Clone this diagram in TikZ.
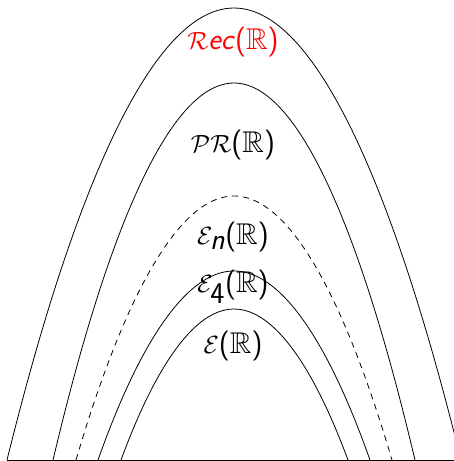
\documentclass[tikz,border=0pt]{standalone}
\usepackage{amssymb}
\begin{document}
\begin{tikzpicture}[x=1pt,y=1pt,
  curve/.style={line width=0.8pt},
  lbl/.style={font=\fontsize{30}{34}\selectfont, inner sep=0pt}]
\useasboundingbox (0,0) rectangle (454,461);
\begin{scope}
\clip (0,0) rectangle (454,461);
\draw[curve] (7,1) parabola bend (234,453) (461,1);
\draw[curve] (53,1) parabola bend (234,378) (415,1);
\draw[curve, dash pattern=on 6pt off 5pt] (76,1) parabola bend (234,265) (392,1);
\draw[curve] (98,1) parabola bend (234,190) (370,1);
\draw[curve] (121,1) parabola bend (234,152) (348,1);
\draw[curve] (7,1) -- (454,1);
\end{scope}
\node[lbl, text=red] (rec) at (233,419) {$\mathcal{R}$\textsf{\itshape ec}\textsf{(}$\mathbb{R}$\textsf{)}};
\node[lbl] (pr) at (233,316) {$\mathcal{P}\mathcal{R}$\textsf{(}$\mathbb{R}$\textsf{)}};
\node[lbl] (en) at (233,224) {$\mathcal{E}_{\textsf{\itshape n}}$\textsf{(}$\mathbb{R}$\textsf{)}};
\node[lbl] (e4) at (233,174) {$\mathcal{E}_{\textsf{4}}$\textsf{(}$\mathbb{R}$\textsf{)}};
\node[lbl] (e) at (233,115) {$\mathcal{E}$\textsf{(}$\mathbb{R}$\textsf{)}};
\end{tikzpicture}
\end{document}
